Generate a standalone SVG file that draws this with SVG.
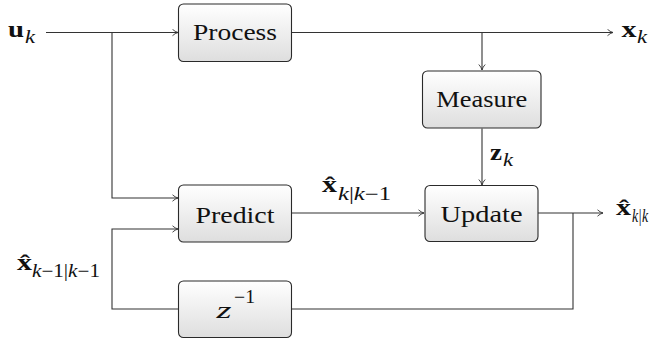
<svg xmlns="http://www.w3.org/2000/svg" width="655" height="342" viewBox="0 0 655 342">
<defs>
<linearGradient id="g" x1="0" y1="0" x2="0" y2="1">
<stop offset="0" stop-color="#ffffff"/>
<stop offset="1" stop-color="#dedede"/>
</linearGradient>
<marker id="a" viewBox="0 0 8 8" refX="7.5" refY="4" markerWidth="8" markerHeight="8" markerUnits="userSpaceOnUse" orient="auto">
<path d="M2,0.8 Q4.5,3.2 7.5,4 Q4.5,4.8 2,7.2" fill="none" stroke="#333" stroke-width="0.9"/>
</marker>
</defs>
<style>
text{font-family:'Liberation Serif','Times New Roman',serif;fill:#111}
.box{fill:url(#g);stroke:#2a2a2a;stroke-width:1.1}
.lbl{font-size:22.5px;text-anchor:middle}
.b{font-weight:bold;font-size:23px}
.i{font-style:italic;font-size:18px}
.s{font-size:18px}
.c{fill:none;stroke:#333;stroke-width:1.1}
</style>
<g id="connectors">
<path class="c" d="M46,32.5 H178" marker-end="url(#a)"/>
<path class="c" d="M112,32.5 V198 H178" marker-end="url(#a)"/>
<path class="c" d="M292,32.5 H613" marker-end="url(#a)"/>
<path class="c" d="M482,32.5 V70" marker-end="url(#a)"/>
<path class="c" d="M482,128.5 V185" marker-end="url(#a)"/>
<path class="c" d="M292,213 H424" marker-end="url(#a)"/>
<path class="c" d="M538,213 H603" marker-end="url(#a)"/>
<path class="c" d="M573,213 V309 H292"/>
<path class="c" d="M179,309 H112 V229 H178" marker-end="url(#a)"/>
</g>
<g id="process">
<rect class="box" x="178.5" y="4" width="113" height="57.5" rx="5"/>
<text class="lbl" x="235" y="39.5" textLength="84" lengthAdjust="spacingAndGlyphs">Process</text>
</g>
<g id="measure">
<rect class="box" x="422.5" y="71" width="118.5" height="57" rx="5"/>
<text class="lbl" x="481.7" y="106.5" textLength="91" lengthAdjust="spacingAndGlyphs">Measure</text>
</g>
<g id="predict">
<rect class="box" x="178.5" y="185" width="113" height="57" rx="5"/>
<text class="lbl" x="235" y="223" textLength="79" lengthAdjust="spacingAndGlyphs">Predict</text>
</g>
<g id="update">
<rect class="box" x="425" y="185.5" width="113" height="56" rx="5"/>
<text class="lbl" x="481.5" y="221.5" textLength="82" lengthAdjust="spacingAndGlyphs">Update</text>
</g>
<g id="delay">
<rect class="box" x="178.5" y="281" width="113" height="56.5" rx="5"/>
<text x="216.5" y="318" font-style="italic" font-size="24" textLength="15" lengthAdjust="spacingAndGlyphs">z</text>
<text class="s" x="234" y="303" textLength="21" lengthAdjust="spacingAndGlyphs">−1</text>
</g>
<g id="labels">
<text class="b" x="8" y="37" textLength="16" lengthAdjust="spacingAndGlyphs">u</text><text class="i" x="25" y="43" textLength="10" lengthAdjust="spacingAndGlyphs">k</text>
<text class="b" x="621.5" y="37" textLength="15" lengthAdjust="spacingAndGlyphs">x</text><text class="i" x="637" y="43" textLength="10" lengthAdjust="spacingAndGlyphs">k</text>
<text class="b" x="490" y="160" textLength="12" lengthAdjust="spacingAndGlyphs">z</text><text class="i" x="503" y="166" textLength="10" lengthAdjust="spacingAndGlyphs">k</text>
<text class="b" x="616" y="215" textLength="15" lengthAdjust="spacingAndGlyphs">x̂</text><text class="i" x="632" y="222" textLength="16" lengthAdjust="spacingAndGlyphs">k|k</text>
<text class="b" x="322" y="192" textLength="15" lengthAdjust="spacingAndGlyphs">x̂</text><text class="s" x="338" y="200" textLength="53" lengthAdjust="spacingAndGlyphs"><tspan font-style="italic">k</tspan>|<tspan font-style="italic">k</tspan>−1</text>
<text class="b" x="17" y="270" textLength="15" lengthAdjust="spacingAndGlyphs">x̂</text><text class="s" x="32" y="277" textLength="68" lengthAdjust="spacingAndGlyphs"><tspan font-style="italic">k</tspan>−1|<tspan font-style="italic">k</tspan>−1</text>
</g>
</svg>
